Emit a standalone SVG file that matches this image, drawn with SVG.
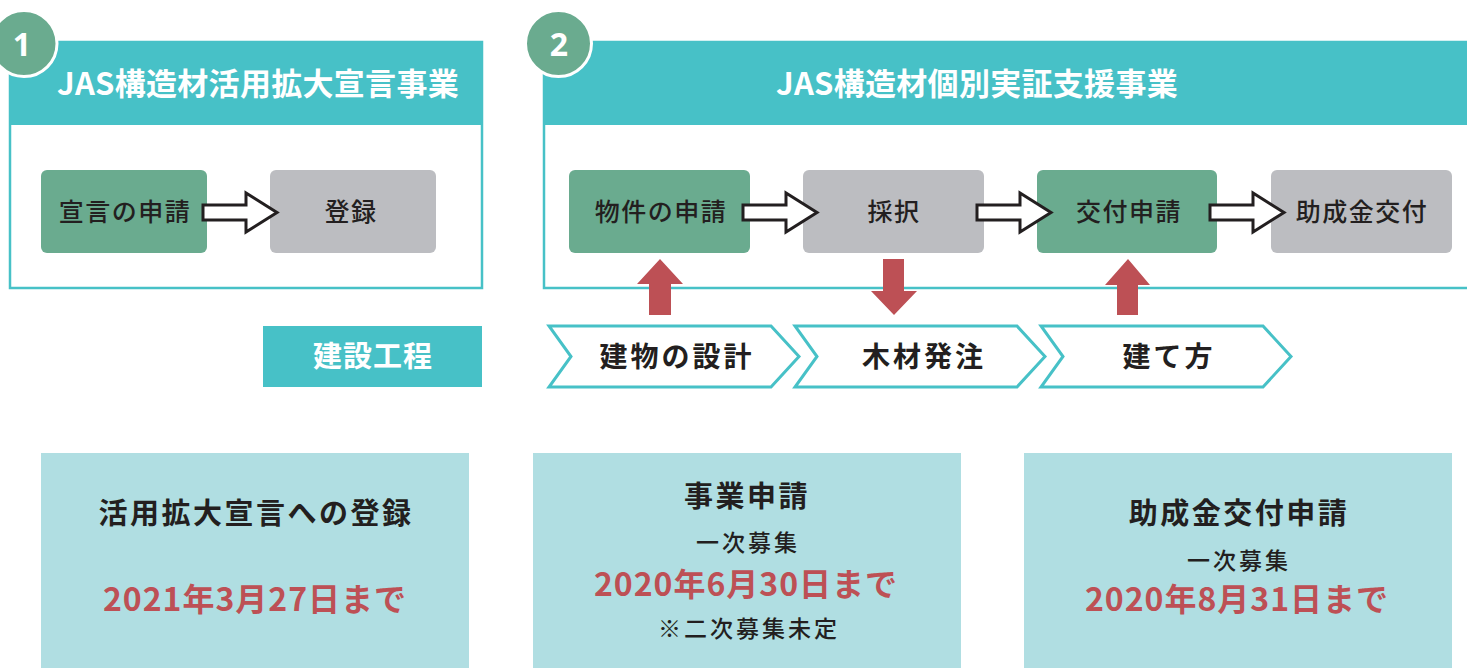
<svg xmlns="http://www.w3.org/2000/svg" width="1467" height="668" viewBox="0 0 1467 668">
<style>
.t{font-family:"Noto Sans CJK JP","Noto Sans",sans-serif;text-anchor:middle}
.hd{font-size:31px;font-weight:700;fill:#fff;letter-spacing:0.3px}
.nd{font-size:25px;font-weight:500;fill:#231f20;letter-spacing:1.5px}
.ch{font-size:28px;font-weight:700;fill:#231f20;letter-spacing:3px}
.bt{font-size:29px;font-weight:700;fill:#231f20;letter-spacing:2.5px}
.sm{font-size:23px;font-weight:500;fill:#231f20;letter-spacing:3px}
.rd{font-size:32px;font-weight:700;fill:#bd5055;letter-spacing:1px}
.num{font-family:"Noto Sans","Liberation Sans",sans-serif;font-size:32px;font-weight:700;fill:#fff;text-anchor:middle}
.panel{fill:#fff;stroke:#47c1c7;stroke-width:2.5}
.head{fill:#47c1c7}
.badge{fill:#6aab8f;stroke:#fff;stroke-width:3}
.green{fill:#6aab8f}
.gray{fill:#bcbdc1}
.chev{fill:#fff;stroke:#47c1c7;stroke-width:3}
.info{fill:#b0dee2}
.red{fill:#bd5055}
</style>
<defs>
<path id="harrow" d="M0,-7.5 H43 V-19.5 L74,0 L43,19.5 V7.5 H0 Z" fill="#fff" stroke="#231f20" stroke-width="3" stroke-linejoin="miter"/>
</defs>

<g id="panel1">
<rect class="panel" x="10" y="42" width="472" height="246"/>
<rect class="head" x="10" y="42" width="472" height="83"/>
<circle class="badge" cx="24" cy="43.5" r="33"/>
<text class="num" x="22" y="56">1</text>
<text class="t hd" x="258" y="95">JAS構造材活用拡大宣言事業</text>
</g>

<g id="panel2">
<rect class="panel" x="544" y="42" width="940" height="246"/>
<rect class="head" x="544" y="42" width="940" height="83"/>
<circle class="badge" cx="558.5" cy="43.5" r="33"/>
<text class="num" x="559" y="56">2</text>
<text class="t hd" x="977" y="95">JAS構造材個別実証支援事業</text>
</g>

<g id="node-sengen">
<rect class="green" x="41" y="170" width="166" height="83" rx="6"/>
<text class="t nd" x="125" y="221">宣言の申請</text>
</g>
<g id="node-touroku">
<rect class="gray" x="270" y="170" width="166" height="83" rx="6"/>
<text class="t nd" x="351" y="221">登録</text>
</g>
<g id="node-bukken">
<rect class="green" x="569" y="170" width="181" height="83" rx="6"/>
<text class="t nd" x="661" y="221">物件の申請</text>
</g>
<g id="node-saitaku">
<rect class="gray" x="803" y="170" width="181" height="83" rx="6"/>
<text class="t nd" x="894" y="221">採択</text>
</g>
<g id="node-koufu">
<rect class="green" x="1037" y="170" width="180" height="83" rx="6"/>
<text class="t nd" x="1129" y="221">交付申請</text>
</g>
<g id="node-josei">
<rect class="gray" x="1271" y="170" width="181" height="83" rx="6"/>
<text class="t nd" x="1362" y="221">助成金交付</text>
</g>

<g id="connectors">
<use href="#harrow" transform="translate(203,212.5)"/>
<use href="#harrow" transform="translate(743,212.5)"/>
<use href="#harrow" transform="translate(977,212.5)"/>
<use href="#harrow" transform="translate(1210,212.5)"/>
<path class="red" d="M660,259 L683,284 H671 V315 H649 V284 H637 Z"/>
<path class="red" d="M883,259 H904 V291 H917 L894,315 L871,291 H883 Z"/>
<path class="red" d="M1128,259 L1150,285 H1138 V315 H1117 V285 H1105 Z"/>
</g>

<g id="kensetsu">
<rect class="head" x="263" y="326" width="219" height="61"/>
<text class="t hd" x="373" y="367" style="font-size:29px;letter-spacing:1px">建設工程</text>
</g>

<g id="step-sekkei">
<path class="chev" d="M549,326 H771 L799,356.5 L771,387 H549 L571,356.5 Z"/>
<text class="t ch" x="677" y="367">建物の設計</text>
</g>
<g id="step-hacchu">
<path class="chev" d="M795,326 H1017 L1045,356.5 L1017,387 H795 L817,356.5 Z"/>
<text class="t ch" x="924" y="367">木材発注</text>
</g>
<g id="step-tatekata">
<path class="chev" d="M1041,326 H1263 L1291,356.5 L1263,387 H1041 L1063,356.5 Z"/>
<text class="t ch" x="1169" y="367">建て方</text>
</g>

<g id="info1">
<rect class="info" x="41" y="453" width="428" height="220"/>
<text class="t bt" x="256" y="524">活用拡大宣言への登録</text>
<text class="t rd" x="255" y="611">2021年3月27日まで</text>
</g>
<g id="info2">
<rect class="info" x="533" y="453" width="428" height="220"/>
<text class="t bt" x="747" y="507">事業申請</text>
<text class="t sm" x="748" y="551">一次募集</text>
<text class="t rd" x="746" y="596">2020年6月30日まで</text>
<text class="t sm" x="749" y="637">※二次募集未定</text>
</g>
<g id="info3">
<rect class="info" x="1024" y="453" width="428" height="220"/>
<text class="t bt" x="1239" y="524">助成金交付申請</text>
<text class="t sm" x="1239" y="569">一次募集</text>
<text class="t rd" x="1237" y="611">2020年8月31日まで</text>
</g>
</svg>
